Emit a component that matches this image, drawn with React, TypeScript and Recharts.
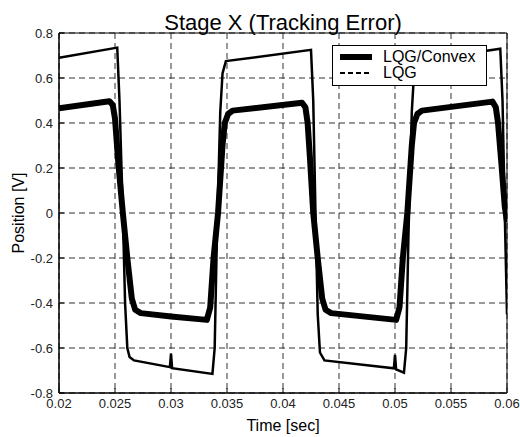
import { CartesianGrid, Label, Legend, Line, LineChart, ReferenceArea, XAxis, YAxis } from "recharts";

const FONT = '"Liberation Sans", Arial, sans-serif';

// time [sec] / position [V]
const convexTime = [
  0.02, 0.0245, 0.0248, 0.025, 0.0253, 0.0257, 0.0261, 0.0265, 0.0268, 0.0273, 0.03, 0.0332,
  0.0335, 0.0338, 0.0342, 0.0346, 0.0348, 0.0351, 0.0355, 0.0417, 0.042, 0.0422, 0.0424, 0.0427,
  0.0431, 0.0435, 0.0438, 0.0443, 0.0501, 0.0504, 0.0507, 0.0511, 0.0515, 0.0517, 0.052, 0.0524,
  0.0587, 0.059, 0.0592, 0.0595, 0.0598, 0.06,
];
const convexPos = [
  0.465, 0.497, 0.48, 0.42, 0.22, 0.0, -0.2, -0.38, -0.43, -0.445, -0.46, -0.475,
  -0.42, -0.2, 0.0, 0.3, 0.4, 0.44, 0.455, 0.49, 0.47, 0.4, 0.25, 0.0,
  -0.2, -0.38, -0.43, -0.445, -0.475, -0.42, -0.2, 0.0, 0.3, 0.4, 0.44, 0.455,
  0.495, 0.47, 0.4, 0.22, 0.03, -0.04,
];

const lqgTime = [
  0.02, 0.0252, 0.0254, 0.0257, 0.0259, 0.0261, 0.0263, 0.0267, 0.0299, 0.03, 0.0301, 0.0337,
  0.0339, 0.0341, 0.0344, 0.0346, 0.0349, 0.0425, 0.0427, 0.0429, 0.0431, 0.0433, 0.0437, 0.0499,
  0.05, 0.0501, 0.0508, 0.051, 0.0512, 0.0515, 0.0517, 0.052, 0.0594, 0.0596, 0.0598, 0.06,
];
const lqgPos = [
  0.69, 0.735, 0.5, 0.0, -0.4, -0.6, -0.64, -0.655, -0.685, -0.625, -0.69, -0.715,
  -0.6, -0.1, 0.45, 0.62, 0.675, 0.725, 0.5, 0.0, -0.45, -0.62, -0.655, -0.69,
  -0.63, -0.695, -0.71, -0.6, -0.1, 0.45, 0.62, 0.675, 0.73, 0.5, 0.0, -0.45,
];

const xTicks = [0.02, 0.025, 0.03, 0.035, 0.04, 0.045, 0.05, 0.055, 0.06];
const yTicks = [-0.8, -0.6, -0.4, -0.2, 0, 0.2, 0.4, 0.6, 0.8];

const convexData = convexTime.map((t, i) => ({ t, v: convexPos[i] }));
const lqgData = lqgTime.map((t, i) => ({ t, v: lqgPos[i] }));

const tickStyle = { fill: "#222", fontSize: 13, fontFamily: FONT };

function LegendBox() {
  return (
    <div
      style={{
        border: "1px solid #000",
        background: "#fff",
        width: 153,
        padding: "3px 0 4px 0",
        fontFamily: FONT,
        fontSize: 16,
        color: "#000",
      }}
    >
      <div style={{ display: "flex", alignItems: "center", height: 16 }}>
        <svg width={50} height={10}>
          <line x1={7} x2={39} y1={5} y2={5} stroke="#000" strokeWidth={6} />
        </svg>
        <span>LQG/Convex</span>
      </div>
      <div style={{ display: "flex", alignItems: "center", height: 16 }}>
        <svg width={50} height={10}>
          <line x1={7} x2={39} y1={5} y2={5} stroke="#000" strokeWidth={2} strokeDasharray="5 3" />
        </svg>
        <span>LQG</span>
      </div>
    </div>
  );
}

export default function App() {
  return (
    <div style={{ position: "absolute", left: 0, top: 0, width: 520, height: 437, background: "#fff" }}>
      <div
        style={{
          position: "absolute",
          left: 59,
          width: 448,
          top: 12,
          textAlign: "center",
          fontFamily: FONT,
          fontSize: 22,
          lineHeight: "22px",
          color: "#000",
        }}
      >
        Stage X (Tracking Error)
      </div>
      <LineChart width={520} height={437} margin={{ top: 33, right: 13, left: 9, bottom: 0 }}>
        <CartesianGrid stroke="#333" strokeDasharray="6 4" />
        <XAxis
          dataKey="t"
          type="number"
          domain={[0.02, 0.06]}
          ticks={xTicks}
          allowDataOverflow
          height={44}
          tickSize={-5}
          tickMargin={11}
          tickLine={{ stroke: "#000" }}
          axisLine={{ stroke: "#000" }}
          tick={tickStyle}
        >
          <Label value="Time [sec]" position="insideBottom" offset={6} fill="#000" fontSize={16} fontFamily={FONT} />
        </XAxis>
        <XAxis
          xAxisId="top"
          orientation="top"
          type="number"
          domain={[0.02, 0.06]}
          ticks={xTicks}
          allowDataOverflow
          height={0}
          tick={false}
          tickSize={-5}
          tickLine={{ stroke: "#000" }}
          axisLine={{ stroke: "#000" }}
        />
        <YAxis
          type="number"
          domain={[-0.8, 0.8]}
          ticks={yTicks}
          allowDataOverflow
          width={50}
          tickSize={-5}
          tickMargin={11}
          tickLine={{ stroke: "#000" }}
          axisLine={{ stroke: "#000" }}
          tick={tickStyle}
        >
          <Label
            value="Position [V]"
            position="insideLeft"
            angle={-90}
            offset={9}
            fill="#000"
            fontSize={16}
            fontFamily={FONT}
            style={{ textAnchor: "middle" }}
          />
        </YAxis>
        <YAxis
          yAxisId="right"
          orientation="right"
          type="number"
          domain={[-0.8, 0.8]}
          ticks={yTicks}
          allowDataOverflow
          width={0}
          tick={false}
          tickSize={-5}
          tickLine={{ stroke: "#000" }}
          axisLine={{ stroke: "#000" }}
        />
        <ReferenceArea x1={0.02} x2={0.06} y1={-0.8} y2={0.8} fill="none" stroke="#000" strokeWidth={1} />
        <Line
          data={lqgData}
          dataKey="v"
          name="LQG"
          type="linear"
          stroke="#000"
          strokeWidth={2.5}
          dot={false}
          isAnimationActive={false}
        />
        <Line
          data={convexData}
          dataKey="v"
          name="LQG/Convex"
          type="linear"
          stroke="#000"
          strokeWidth={6}
          strokeLinejoin="round"
          dot={false}
          isAnimationActive={false}
        />
        <Legend
          layout="vertical"
          align="center"
          verticalAlign="middle"
          wrapperStyle={{ top: 45, left: 332, width: "auto" }}
          content={() => <LegendBox />}
        />
      </LineChart>
    </div>
  );
}
